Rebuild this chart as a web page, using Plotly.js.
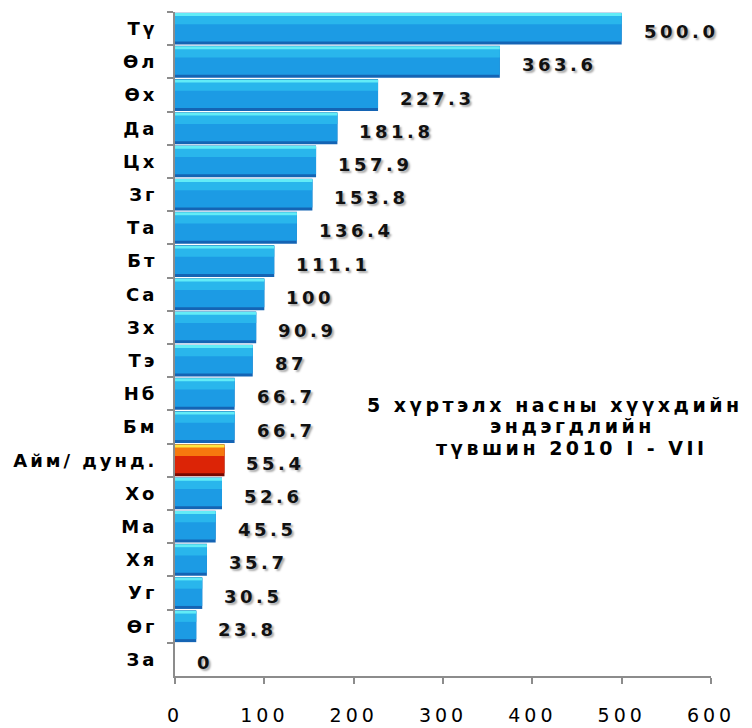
<!DOCTYPE html>
<html>
<head>
<meta charset="utf-8">
<script src="https://cdn.plot.ly/plotly-3.0.1.min.js"></script>
<style>
  html, body { margin: 0; padding: 0; background: #fff; }
  #chart { width: 752px; height: 728px; }
  /* the original uses widely spaced lettering; global so Plotly's text measuring sees it too */
  .annotation-text { letter-spacing: 3.5px; }
  .ytick text { letter-spacing: 3px; }
  .xtick text { letter-spacing: 4px; }
</style>
</head>
<body>
<div id="chart"></div>
<script>
// aimags / districts, top to bottom
const categories = ['Тү', 'Өл', 'Өх', 'Да', 'Цх', 'Зг', 'Та', 'Бт', 'Са', 'Зх',
                    'Тэ', 'Нб', 'Бм', 'Айм/ дунд.', 'Хо', 'Ма', 'Хя', 'Уг', 'Өг', 'За'];
const values = [500.0, 363.6, 227.3, 181.8, 157.9, 153.8, 136.4, 111.1, 100, 90.9,
                87, 66.7, 66.7, 55.4, 52.6, 45.5, 35.7, 30.5, 23.8, 0];
const valueLabels = ['500.0', '363.6', '227.3', '181.8', '157.9', '153.8', '136.4', '111.1', '100', '90.9',
                     '87', '66.7', '66.7', '55.4', '52.6', '45.5', '35.7', '30.5', '23.8', '0'];
const xTicks = [0, 100, 200, 300, 400, 500, 600];
const highlightCategory = 'Айм/ дунд.';
const noteLines = ['5 хүртэлх насны хүүхдийн', 'эндэгдлийн', 'түвшин 2010 I - VII'];

const isAvg = categories.map(c => c === highlightCategory);
const pick = (blue, red) => isAvg.map(a => a ? red : blue);

// --- Bars: layered strips to fake the glossy bevel ---
function barLayer(color, width, offset, hover) {
    return {
        type: 'bar', orientation: 'h',
        x: values, y: categories,
        width: width, offset: offset,
        marker: { color: color, line: { width: 0 } },
        hoverinfo: hover ? 'x+y' : 'skip'
    };
}
const layers = [
    barLayer(pick('#1464b4', '#780800'), 0.96, -0.48, true),
    barLayer(pick('#1c9be4', '#dc2406'), 0.84, -0.45),
    barLayer(pick('#29b6ec', '#f6780e'), 0.32, -0.45),
    barLayer(pick('#62ecf7', '#ffe640'), 0.09, -0.47)
];

// --- Value labels ---
const labelAnnotations = values.map((v, i) => ({
    x: v, y: categories[i],
    xref: 'x', yref: 'y',
    text: valueLabels[i],
    showarrow: false,
    xanchor: 'left', align: 'left',
    xshift: 20, yshift: -3,
    font: { family: 'DejaVu Sans', size: 18, weight: 'bold', color: '#111',
            shadow: '2px 2px 2px #aaa' }
}));

// --- Chart note, one annotation per line ---
// align 'left' keeps the letter-spaced text where Plotly measured it
const notePos = [[0.709, 0.408], [0.742, 0.376], [0.740, 0.343]];
const noteAnnotations = noteLines.map((line, i) => ({
    xref: 'paper', yref: 'paper',
    x: notePos[i][0], y: notePos[i][1],
    text: line,
    showarrow: false,
    xanchor: 'center', align: 'left',
    font: { family: 'DejaVu Sans', size: 19, weight: 'bold', color: '#000' }
}));

const layout = {
    width: 752, height: 728,
    margin: { l: 175, r: 41, t: 12, b: 52 },
    paper_bgcolor: '#fff',
    plot_bgcolor: '#fff',
    barmode: 'overlay',
    showlegend: false,
    xaxis: {
        range: [0, 600],
        tickvals: xTicks,
        showgrid: false, zeroline: false,
        showline: true, linecolor: '#8c8c8c', linewidth: 2,
        ticks: 'outside', ticklen: 6, tickcolor: '#8c8c8c', tickwidth: 2,
        ticklabelstandoff: 15,
        tickfont: { family: 'DejaVu Sans', size: 19, color: '#000' }
    },
    yaxis: {
        type: 'category',
        autorange: 'reversed',
        showgrid: false, zeroline: false,
        showline: true, linecolor: '#8c8c8c', linewidth: 2,
        ticks: 'outside', ticklen: 6, tickcolor: '#8c8c8c', tickwidth: 2,
        tickson: 'boundaries',
        ticklabelstandoff: 12,
        tickfont: { family: 'DejaVu Sans', size: 18, weight: 'bold', color: '#000' }
    },
    annotations: [...labelAnnotations, ...noteAnnotations]
};

Plotly.newPlot('chart', layers, layout, { displayModeBar: false, staticPlot: true });
</script>
</body>
</html>
